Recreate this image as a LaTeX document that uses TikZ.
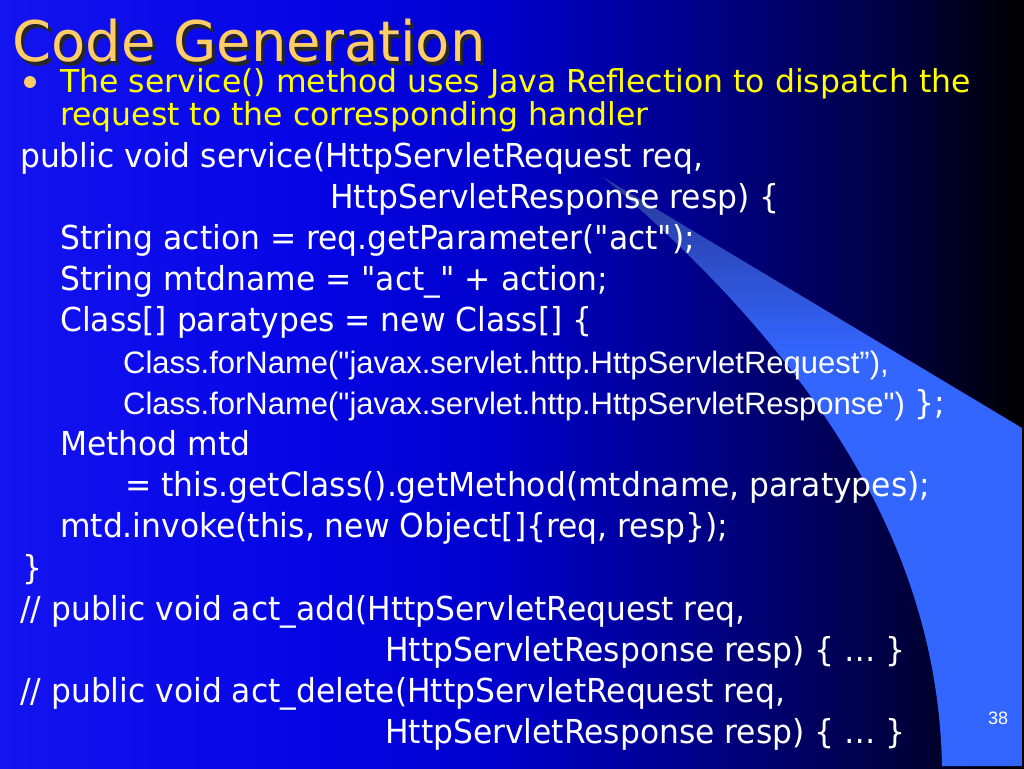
\documentclass[tikz,border=0pt]{standalone}
\usepackage{fontspec}
\setmainfont{DejaVu Sans}[Ligatures=TeXOff]
\newfontfamily\codefont{DejaVu Sans}[FakeStretch=0.95, Ligatures=TeXOff]
\newfontfamily\narrowfont{Liberation Sans}[Ligatures=TeXOff]

\definecolor{slideblue}{RGB}{20,20,240}
\definecolor{slidemid}{RGB}{5,5,230}
\definecolor{slidedeep}{RGB}{0,0,204}
\definecolor{slidenavy}{RGB}{0,0,136}
\definecolor{slidedark}{RGB}{0,0,64}
\definecolor{slideblack}{RGB}{0,0,0}
\definecolor{wedgeblue}{HTML}{3366FF}
\definecolor{wedgetip}{RGB}{40,56,150}
\definecolor{titleorange}{HTML}{FFCC66}
\definecolor{introyellow}{HTML}{FFFF00}

% the picture's box maps to 25bp..75bp of these shadings
\pgfdeclarehorizontalshading{slidebg}{100bp}{color(0bp)=(slideblue); color(25bp)=(slideblue);
  color(39.6bp)=(slidemid); color(49.4bp)=(slidedeep); color(59.2bp)=(slidenavy);
  color(68.9bp)=(slidedark); color(75bp)=(slideblack); color(100bp)=(slideblack)}
\pgfdeclareverticalshading{wedgefade}{100bp}{color(0bp)=(wedgeblue); color(60bp)=(wedgeblue);
  color(75bp)=(wedgetip); color(100bp)=(wedgetip)}

\begin{document}
\begin{tikzpicture}[x=1pt, y=-1pt,
    code/.style={anchor=base west, inner sep=0pt, text=white, font=\fontsize{33}{40}\selectfont\codefont},
    narrowcode/.style={code, font=\fontsize{31}{40}\selectfont\narrowfont},
    intro/.style={anchor=base west, inner sep=0pt, text=introyellow, font=\fontsize{31.5}{36}\selectfont},
    titletext/.style={anchor=base west, inner sep=0pt, font=\fontsize{56}{70}\selectfont},
    bulletdot/.style={circle, fill=titleorange, inner sep=0pt, minimum size=12pt}]
  \useasboundingbox (0,0) rectangle (1024,768);
  \shade[shading=slidebg] (0,0) rectangle (1024,768);
  % light wedge on the right
  \shade[shading=wedgefade]
    (603,177) -- (1022,428) -- (1022,766) -- (942,766)
    .. controls (938,560) and (830,370) .. (603,177);
  % title
  \node[titletext, text=black!85] (shadow) at (15,65) {Code Generation};
  \node[titletext, text=titleorange] (title) at (12,62) {Code Generation};
  \node[bulletdot] (dot) at (30,82) {};
  \node[intro] (intro1) at (60,92) {The service() method uses Java Reflection to dispatch the};
  \node[intro] (intro2) at (60,125) {request to the corresponding handler};
  % code lines
  \node[code] (l1) at (20,167) {public void service(HttpServletRequest req,};
  \node[code] (l2) at (330,208.2) {HttpServletResponse resp) \{};
  \node[code] (l3) at (60,249.4) {String action = req.getParameter("act");};
  \node[code] (l4) at (60,290.6) {String mtdname = "act\_" + action;};
  \node[code] (l5) at (60,331.8) {Class[] paratypes = new Class[] \{};
  \node[narrowcode] (l6) at (123,373) {Class.forName("javax.servlet.http.HttpServletRequest”),};
  \node[code] (l7) at (123,414.2) {{\narrowfont\fontsize{31}{40}\selectfont Class.forName("javax.servlet.http.HttpServletResponse")} \};};
  \node[code] (l8) at (60,455.4) {Method mtd};
  \node[code] (l9) at (125,496.6) {= this.getClass().getMethod(mtdname, paratypes);};
  \node[code] (l10) at (60,537.8) {mtd.invoke(this, new Object[]\{req, resp\});};
  \node[code] (l11) at (22,579) {\}};
  \node[code] (l12) at (20,620.2) {// public void act\_add(HttpServletRequest req,};
  \node[code] (l13) at (385,661.4) {HttpServletResponse resp) \{ … \}};
  \node[code] (l14) at (20,702.6) {// public void act\_delete(HttpServletRequest req,};
  \node[code] (l15) at (385,743.8) {HttpServletResponse resp) \{ … \}};
  \node[text=white, font=\fontsize{18}{20}\selectfont\narrowfont] (page) at (998,718) {38};
\end{tikzpicture}
\end{document}
